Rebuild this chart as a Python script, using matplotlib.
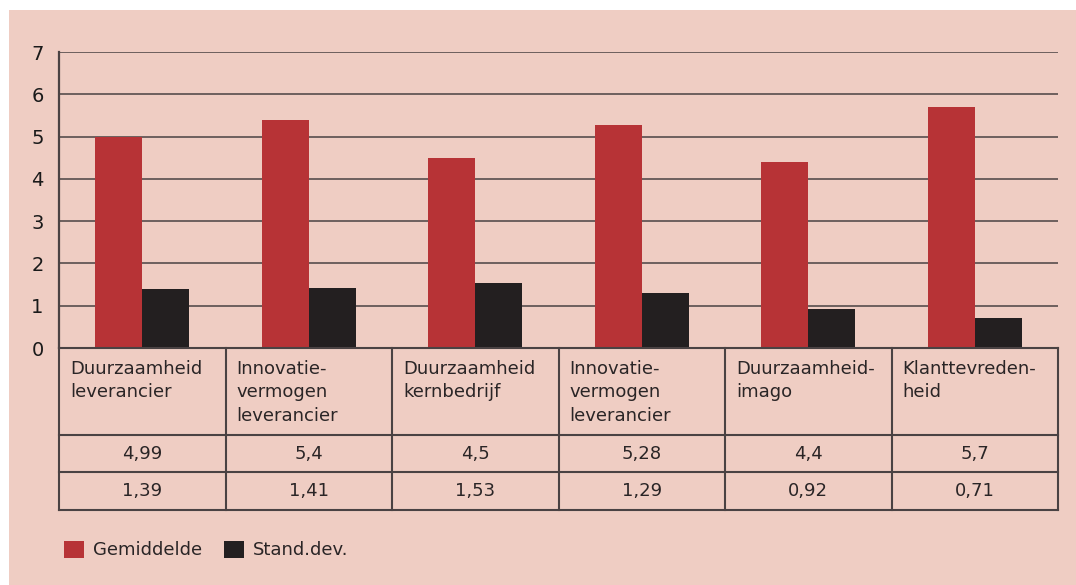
import numpy as np
import matplotlib
matplotlib.use("Agg")
import matplotlib.pyplot as plt
from matplotlib.patches import Rectangle

# data
categories = ["Duurzaamheid\nleverancier", "Innovatie-\nvermogen\nleverancier",
              "Duurzaamheid\nkernbedrijf", "Innovatie-\nvermogen\nleverancier",
              "Duurzaamheid-\nimago", "Klanttevreden-\nheid"]
gemiddelde = [4.99, 5.4, 4.5, 5.28, 4.4, 5.7]
stand_dev = [1.39, 1.41, 1.53, 1.29, 0.92, 0.71]
series_names = ["Gemiddelde", "Stand.dev."]
y_ticks = [0, 1, 2, 3, 4, 5, 6, 7]

pink = "#efcdc3"
red = "#b73336"
black = "#231f20"
line_col = "#4a4243"

plt.rcParams['font.family'] = ['DejaVu Sans']

W, H = 1076, 585
fig = plt.figure(figsize=(W / 100, H / 100), dpi=100)
fig.patch.set_facecolor("white")
# pink panel with white margin top/left
fig.add_artist(Rectangle((9 / W, 0), 1, (H - 10) / H, transform=fig.transFigure,
                         facecolor=pink, edgecolor="none", zorder=0))

left, right = 59 / W, 1058 / W
ax = fig.add_axes([left, (H - 348) / H, right - left, (348 - 52) / H])
ax.set_facecolor("none")
x = np.arange(len(categories))
bw = 0.282
b1 = ax.bar(x - bw / 2, gemiddelde, bw, color=red, label=series_names[0], zorder=3)
b2 = ax.bar(x + bw / 2, stand_dev, bw, color=black, label=series_names[1], zorder=3)
ax.set_xlim(-0.5, len(categories) - 0.5)
ax.set_ylim(0, 7)
ax.set_yticks(y_ticks)
ax.tick_params(axis="y", length=0, pad=11, labelsize=14, labelcolor="#1a1a1a")
ax.set_xticks([])
ax.yaxis.grid(True, color=line_col, linewidth=1.1)
ax.set_axisbelow(True)
for s in ["top", "right", "bottom"]:
    ax.spines[s].set_visible(False)
ax.spines["left"].set_color(line_col)
ax.spines["left"].set_linewidth(1.6)

# table underneath, in its own axes sharing the category scale
tab = fig.add_axes([left, (H - 510) / H, right - left, (510 - 348) / H])
tab.set_xlim(-0.5, len(categories) - 0.5)
tab.set_ylim(162, 0)
tab.axis("off")
for yy in [0, 87, 124, 162]:
    tab.plot([-0.5, len(categories) - 0.5], [yy, yy], color=line_col, lw=1.5,
             clip_on=False, solid_capstyle="projecting")
for xx in np.arange(len(categories) + 1) - 0.5:
    tab.plot([xx, xx], [0, 162], color=line_col, lw=1.5, clip_on=False,
             solid_capstyle="projecting")
for i, cat in enumerate(categories):
    tab.text(i - 0.5 + 0.066, 12, cat, ha="left", va="top", fontsize=13,
             linespacing=1.38, color="#2a2526")
    tab.text(i, 106, str(gemiddelde[i]).replace(".", ","), ha="center",
             va="center", fontsize=13, color="#2a2526")
    tab.text(i, 143, str(stand_dev[i]).replace(".", ","), ha="center",
             va="center", fontsize=13, color="#2a2526")

fig.legend(handles=[b1, b2], labels=series_names, loc="center left",
           bbox_to_anchor=(64 / W, (H - 550) / H), ncol=2, frameon=False,
           fontsize=13, handlelength=1.1, handleheight=1.1, handletextpad=0.5,
           columnspacing=1.2, borderpad=0, borderaxespad=0,
           labelcolor="#2a2526")

fig.savefig("out.png", dpi=100, facecolor=fig.get_facecolor())
